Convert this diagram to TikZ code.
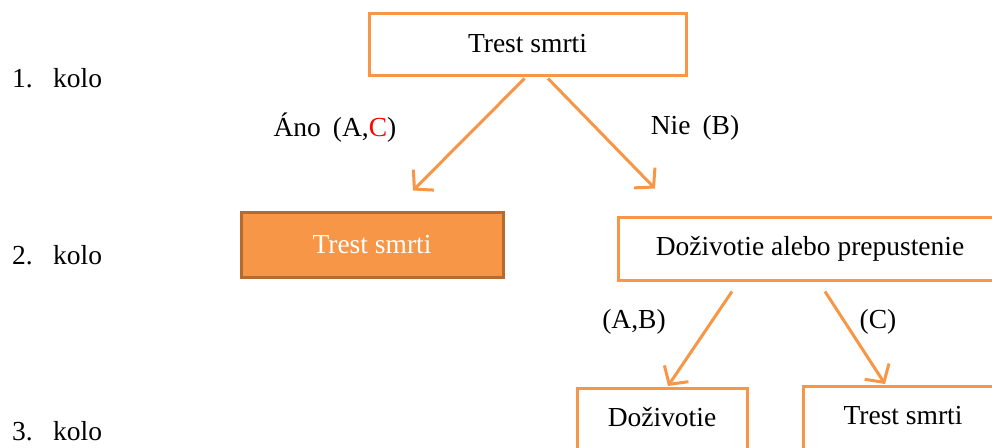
\documentclass[tikz,border=0pt]{standalone}
\usepackage{fontspec}
\setmainfont{Liberation Serif}
\usetikzlibrary{arrows.meta,calc}
\definecolor{accent}{HTML}{F79646}
\definecolor{accentdark}{HTML}{B76A30}
\definecolor{cred}{HTML}{FF0000}
\tikzset{
  box/.style={draw=accent, line width=3pt, fill=white, rectangle, inner sep=0pt,
    font=\fontsize{27.5}{32}\selectfont, text=black},
  boxfill/.style={box, draw=accentdark, fill=accent, text=white},
  arr/.style={draw=accent, line width=3pt,
    -{Straight Barb[length=13pt,width=29pt,line width=3pt]}},
  lbl/.style={font=\fontsize{27.5}{32}\selectfont, inner sep=0pt},
}
\begin{document}
\begin{tikzpicture}[x=1pt,y=-1pt]
\useasboundingbox (0,0) rectangle (992,447);
\clip (0,0) rectangle (992,447);

% round labels on the left
\node[lbl, anchor=west] (r1) at (12,78)  {\makebox[41pt][l]{1.}kolo};
\node[lbl, anchor=west] (r2) at (12,255) {\makebox[41pt][l]{2.}kolo};
\node[lbl, anchor=west] (r3) at (12,431) {\makebox[41pt][l]{3.}kolo};

% boxes
\node[box, minimum width=317pt, minimum height=62pt] (top) at (527.5,44) {Trest smrti};
\node[boxfill, minimum width=262pt, minimum height=65pt] (yes) at (372,244.5) {Trest smrti};
\node[box, minimum width=384pt, minimum height=63pt] (mid) at (810,248.5) {Doživotie alebo prepustenie};
\node[box, minimum width=170pt, minimum height=62pt, anchor=north] (life) at (662,387) {\raisebox{5pt}{Doživotie}};
\node[box, minimum width=200pt, minimum height=63pt, anchor=north] (death) at (903,385) {\raisebox{5pt}{Trest smrti}};

% connectors
\draw[arr] ([xshift=-3pt,yshift=-2pt]top.south) -- ([xshift=41pt,yshift=20pt]yes.north);
\draw[arr] ([xshift=20.5pt,yshift=-2pt]top.south) -- ([xshift=-155pt,yshift=27pt]mid.north);
\draw[arr] ([xshift=-78pt,yshift=-10pt]mid.south) -- ([xshift=6pt,yshift=1pt]life.north);
\draw[arr] ([xshift=15pt,yshift=-10pt]mid.south) -- ([xshift=-18pt,yshift=1pt]death.north);

% branch labels
\node[lbl] (ano) at (335,128) {Áno\hspace{12pt}(A,\textcolor{cred}{C})};
\node[lbl] (nie) at (695,128) {Nie\hspace{12pt}(B)};
\node[lbl] (ab) at (634,322) {(A,B)};
\node[lbl] (c) at (878,322) {(C)};
\end{tikzpicture}
\end{document}
